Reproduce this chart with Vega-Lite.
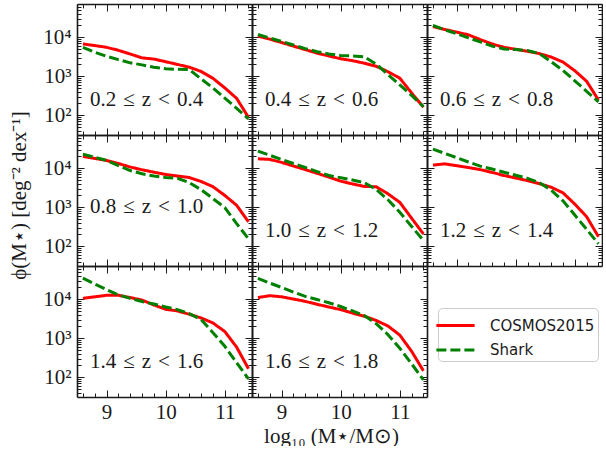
{
  "$schema": "https://vega.github.io/schema/vega-lite/v6.json",
  "background": "white",
  "padding": {"left": 8, "top": 3, "right": 0, "bottom": 0},
  "data": {"values": [
    {"z":"0.2","m":8.6,"COSMOS2015":6700,"Shark":5500},
    {"z":"0.2","m":8.8,"COSMOS2015":6100,"Shark":4100},
    {"z":"0.2","m":9.0,"COSMOS2015":5500,"Shark":3250},
    {"z":"0.2","m":9.2,"COSMOS2015":4600,"Shark":2650},
    {"z":"0.2","m":9.4,"COSMOS2015":3700,"Shark":2200},
    {"z":"0.2","m":9.6,"COSMOS2015":2950,"Shark":1950},
    {"z":"0.2","m":9.8,"COSMOS2015":2750,"Shark":1700},
    {"z":"0.2","m":10.0,"COSMOS2015":2350,"Shark":1550},
    {"z":"0.2","m":10.2,"COSMOS2015":2000,"Shark":1500},
    {"z":"0.2","m":10.4,"COSMOS2015":1700,"Shark":1480},
    {"z":"0.2","m":10.6,"COSMOS2015":1320,"Shark":850},
    {"z":"0.2","m":10.8,"COSMOS2015":880,"Shark":500},
    {"z":"0.2","m":11.0,"COSMOS2015":500,"Shark":275},
    {"z":"0.2","m":11.2,"COSMOS2015":270,"Shark":150},
    {"z":"0.2","m":11.4,"COSMOS2015":88,"Shark":80},

    {"z":"0.4","m":8.6,"COSMOS2015":10700,"Shark":11700},
    {"z":"0.4","m":8.8,"COSMOS2015":8900,"Shark":9500},
    {"z":"0.4","m":9.0,"COSMOS2015":7300,"Shark":7800},
    {"z":"0.4","m":9.2,"COSMOS2015":5900,"Shark":6300},
    {"z":"0.4","m":9.4,"COSMOS2015":4800,"Shark":5100},
    {"z":"0.4","m":9.6,"COSMOS2015":3900,"Shark":4250},
    {"z":"0.4","m":9.8,"COSMOS2015":3300,"Shark":3700},
    {"z":"0.4","m":10.0,"COSMOS2015":2800,"Shark":3400},
    {"z":"0.4","m":10.2,"COSMOS2015":2500,"Shark":3300},
    {"z":"0.4","m":10.4,"COSMOS2015":2150,"Shark":3150},
    {"z":"0.4","m":10.6,"COSMOS2015":1800,"Shark":2050},
    {"z":"0.4","m":10.8,"COSMOS2015":1300,"Shark":1100},
    {"z":"0.4","m":11.0,"COSMOS2015":890,"Shark":600},
    {"z":"0.4","m":11.2,"COSMOS2015":370,"Shark":320},
    {"z":"0.4","m":11.4,"COSMOS2015":160,"Shark":165},

    {"z":"0.6","m":8.6,"COSMOS2015":18600,"Shark":20000},
    {"z":"0.6","m":8.8,"COSMOS2015":15800,"Shark":15500},
    {"z":"0.6","m":9.0,"COSMOS2015":13500,"Shark":12300},
    {"z":"0.6","m":9.2,"COSMOS2015":11500,"Shark":9600},
    {"z":"0.6","m":9.4,"COSMOS2015":8700,"Shark":7600},
    {"z":"0.6","m":9.6,"COSMOS2015":6700,"Shark":5900},
    {"z":"0.6","m":9.8,"COSMOS2015":5500,"Shark":5000},
    {"z":"0.6","m":10.0,"COSMOS2015":4900,"Shark":4800},
    {"z":"0.6","m":10.2,"COSMOS2015":4350,"Shark":4550},
    {"z":"0.6","m":10.4,"COSMOS2015":3800,"Shark":3800},
    {"z":"0.6","m":10.6,"COSMOS2015":3100,"Shark":2350},
    {"z":"0.6","m":10.8,"COSMOS2015":2300,"Shark":1400},
    {"z":"0.6","m":11.0,"COSMOS2015":1380,"Shark":760},
    {"z":"0.6","m":11.2,"COSMOS2015":740,"Shark":410},
    {"z":"0.6","m":11.4,"COSMOS2015":245,"Shark":220},

    {"z":"0.8","m":8.6,"COSMOS2015":20000,"Shark":23000},
    {"z":"0.8","m":8.8,"COSMOS2015":17800,"Shark":19000},
    {"z":"0.8","m":9.0,"COSMOS2015":15800,"Shark":15800},
    {"z":"0.8","m":9.2,"COSMOS2015":13200,"Shark":11700},
    {"z":"0.8","m":9.4,"COSMOS2015":10700,"Shark":8700},
    {"z":"0.8","m":9.6,"COSMOS2015":9100,"Shark":7200},
    {"z":"0.8","m":9.8,"COSMOS2015":7900,"Shark":6300},
    {"z":"0.8","m":10.0,"COSMOS2015":6900,"Shark":5750},
    {"z":"0.8","m":10.2,"COSMOS2015":6300,"Shark":5500},
    {"z":"0.8","m":10.4,"COSMOS2015":5750,"Shark":4250},
    {"z":"0.8","m":10.6,"COSMOS2015":4550,"Shark":2800},
    {"z":"0.8","m":10.8,"COSMOS2015":3350,"Shark":1660},
    {"z":"0.8","m":11.0,"COSMOS2015":2000,"Shark":980},
    {"z":"0.8","m":11.2,"COSMOS2015":1120,"Shark":380},
    {"z":"0.8","m":11.4,"COSMOS2015":420,"Shark":155},

    {"z":"1.0","m":8.6,"COSMOS2015":17400,"Shark":27500},
    {"z":"1.0","m":8.8,"COSMOS2015":16800,"Shark":21500},
    {"z":"1.0","m":9.0,"COSMOS2015":14100,"Shark":16800},
    {"z":"1.0","m":9.2,"COSMOS2015":11400,"Shark":13200},
    {"z":"1.0","m":9.4,"COSMOS2015":9200,"Shark":10400},
    {"z":"1.0","m":9.6,"COSMOS2015":7400,"Shark":8200},
    {"z":"1.0","m":9.8,"COSMOS2015":5900,"Shark":6500},
    {"z":"1.0","m":10.0,"COSMOS2015":4650,"Shark":5700},
    {"z":"1.0","m":10.2,"COSMOS2015":3950,"Shark":5000},
    {"z":"1.0","m":10.4,"COSMOS2015":3400,"Shark":4250},
    {"z":"1.0","m":10.6,"COSMOS2015":3350,"Shark":2850},
    {"z":"1.0","m":10.8,"COSMOS2015":2200,"Shark":1550},
    {"z":"1.0","m":11.0,"COSMOS2015":1330,"Shark":740},
    {"z":"1.0","m":11.2,"COSMOS2015":520,"Shark":320},
    {"z":"1.0","m":11.4,"COSMOS2015":205,"Shark":140},

    {"z":"1.2","m":8.6,"COSMOS2015":12000,"Shark":30900},
    {"z":"1.2","m":8.8,"COSMOS2015":12900,"Shark":24000},
    {"z":"1.2","m":9.0,"COSMOS2015":11600,"Shark":18600},
    {"z":"1.2","m":9.2,"COSMOS2015":10400,"Shark":14400},
    {"z":"1.2","m":9.4,"COSMOS2015":9200,"Shark":11300},
    {"z":"1.2","m":9.6,"COSMOS2015":7800,"Shark":9500},
    {"z":"1.2","m":9.8,"COSMOS2015":6500,"Shark":7900},
    {"z":"1.2","m":10.0,"COSMOS2015":5600,"Shark":6600},
    {"z":"1.2","m":10.2,"COSMOS2015":4800,"Shark":5500},
    {"z":"1.2","m":10.4,"COSMOS2015":4000,"Shark":4250},
    {"z":"1.2","m":10.6,"COSMOS2015":3250,"Shark":2750},
    {"z":"1.2","m":10.8,"COSMOS2015":2330,"Shark":1450},
    {"z":"1.2","m":11.0,"COSMOS2015":1200,"Shark":630},
    {"z":"1.2","m":11.2,"COSMOS2015":570,"Shark":270},
    {"z":"1.2","m":11.4,"COSMOS2015":175,"Shark":115},

    {"z":"1.4","m":8.6,"COSMOS2015":10500,"Shark":34500},
    {"z":"1.4","m":8.8,"COSMOS2015":11500,"Shark":24500},
    {"z":"1.4","m":9.0,"COSMOS2015":12600,"Shark":17500},
    {"z":"1.4","m":9.2,"COSMOS2015":12600,"Shark":12900},
    {"z":"1.4","m":9.4,"COSMOS2015":11000,"Shark":10500},
    {"z":"1.4","m":9.6,"COSMOS2015":9500,"Shark":8700},
    {"z":"1.4","m":9.8,"COSMOS2015":7100,"Shark":7500},
    {"z":"1.4","m":10.0,"COSMOS2015":5500,"Shark":6300},
    {"z":"1.4","m":10.2,"COSMOS2015":5000,"Shark":5400},
    {"z":"1.4","m":10.4,"COSMOS2015":4100,"Shark":4250},
    {"z":"1.4","m":10.6,"COSMOS2015":3300,"Shark":3000},
    {"z":"1.4","m":10.8,"COSMOS2015":2450,"Shark":1380},
    {"z":"1.4","m":11.0,"COSMOS2015":1480,"Shark":620},
    {"z":"1.4","m":11.2,"COSMOS2015":590,"Shark":235},
    {"z":"1.4","m":11.4,"COSMOS2015":165,"Shark":90},

    {"z":"1.6","m":8.6,"COSMOS2015":11000,"Shark":34000},
    {"z":"1.6","m":8.8,"COSMOS2015":12300,"Shark":26000},
    {"z":"1.6","m":9.0,"COSMOS2015":11500,"Shark":20000},
    {"z":"1.6","m":9.2,"COSMOS2015":10100,"Shark":15200},
    {"z":"1.6","m":9.4,"COSMOS2015":8800,"Shark":11800},
    {"z":"1.6","m":9.6,"COSMOS2015":7400,"Shark":9800},
    {"z":"1.6","m":9.8,"COSMOS2015":6300,"Shark":8100},
    {"z":"1.6","m":10.0,"COSMOS2015":5400,"Shark":6500},
    {"z":"1.6","m":10.2,"COSMOS2015":4400,"Shark":5000},
    {"z":"1.6","m":10.4,"COSMOS2015":3650,"Shark":3800},
    {"z":"1.6","m":10.6,"COSMOS2015":2850,"Shark":2350},
    {"z":"1.6","m":10.8,"COSMOS2015":2050,"Shark":1230},
    {"z":"1.6","m":11.0,"COSMOS2015":1200,"Shark":550},
    {"z":"1.6","m":11.2,"COSMOS2015":460,"Shark":220},
    {"z":"1.6","m":11.4,"COSMOS2015":145,"Shark":85}
  ]},
  "columns": 3,
  "bounds": "flush",
  "spacing": 0,
  "concat": [
    {"width": 175, "height": 131, "title": {"text": "0.2\u2004≤\u2004z\u2004<\u20040.4"},
     "transform": [{"filter": "datum.z == '0.2'"}, {"fold": ["COSMOS2015", "Shark"], "as": ["s", "phi"]}],
     "layer": [
      {"mark": {"type": "line", "strokeWidth": 3, "clip": true}, "encoding": {
        "x": {"field": "m", "type": "quantitative", "scale": {"domain": [8.5, 11.46]}, "axis": {"orient": "bottom", "values": [9, 10, 11], "tickSize": -7, "labels": false, "title": null}},
        "y": {"field": "phi", "type": "quantitative", "scale": {"type": "log", "domain": [31, 71000]}, "axis": {"orient": "left", "values": [100, 1000, 10000], "tickSize": -7, "labels": true, "labelExpr": "datum.value == 100 ? '10²' : datum.value == 1000 ? '10³' : '10⁴'", "title": null}},
        "color": {"field": "s", "type": "nominal", "scale": {"domain": ["COSMOS2015", "Shark"], "range": ["#ff0000", "#008000"]}, "legend": {"title": null}},
        "strokeDash": {"field": "s", "type": "nominal", "scale": {"domain": ["COSMOS2015", "Shark"], "range": [[1, 0], [10, 4]]}, "legend": {"title": null}}}},
      {"mark": {"type": "point", "opacity": 0}, "encoding": {
        "x": {"field": "m", "type": "quantitative", "scale": {"domain": [8.5, 11.46]}, "axis": {"orient": "top", "values": [9, 10, 11], "tickSize": -7, "labels": false, "title": null}},
        "y": {"field": "phi", "type": "quantitative", "scale": {"type": "log", "domain": [31, 71000]}, "axis": {"orient": "right", "values": [100, 1000, 10000], "tickSize": -7, "labels": false, "title": null}}}},
      {"mark": {"type": "point", "opacity": 0}, "encoding": {
        "x": {"field": "m", "type": "quantitative", "scale": {"domain": [8.5, 11.46]}, "axis": {"orient": "bottom", "values": [8.6, 8.8, 9.2, 9.4, 9.6, 9.8, 10.2, 10.4, 10.6, 10.8, 11.2, 11.4], "tickSize": -4, "labels": false, "domain": false, "title": null}},
        "y": {"field": "phi", "type": "quantitative", "scale": {"type": "log", "domain": [31, 71000]}, "axis": {"orient": "left", "values": [40, 50, 60, 70, 80, 90, 200, 300, 400, 500, 600, 700, 800, 900, 2000, 3000, 4000, 5000, 6000, 7000, 8000, 9000, 20000, 30000, 40000, 50000, 60000, 70000], "tickSize": -4, "labels": false, "domain": false, "title": null}}}},
      {"mark": {"type": "point", "opacity": 0}, "encoding": {
        "x": {"field": "m", "type": "quantitative", "scale": {"domain": [8.5, 11.46]}, "axis": {"orient": "top", "values": [8.6, 8.8, 9.2, 9.4, 9.6, 9.8, 10.2, 10.4, 10.6, 10.8, 11.2, 11.4], "tickSize": -4, "labels": false, "domain": false, "title": null}},
        "y": {"field": "phi", "type": "quantitative", "scale": {"type": "log", "domain": [31, 71000]}, "axis": {"orient": "right", "values": [40, 50, 60, 70, 80, 90, 200, 300, 400, 500, 600, 700, 800, 900, 2000, 3000, 4000, 5000, 6000, 7000, 8000, 9000, 20000, 30000, 40000, 50000, 60000, 70000], "tickSize": -4, "labels": false, "domain": false, "title": null}}}}
     ],
     "resolve": {"axis": {"x": "independent", "y": "independent"}}},
    {"width": 175, "height": 131, "title": {"text": "0.4\u2004≤\u2004z\u2004<\u20040.6"},
     "transform": [{"filter": "datum.z == '0.4'"}, {"fold": ["COSMOS2015", "Shark"], "as": ["s", "phi"]}],
     "layer": [
      {"mark": {"type": "line", "strokeWidth": 3, "clip": true}, "encoding": {
        "x": {"field": "m", "type": "quantitative", "scale": {"domain": [8.5, 11.46]}, "axis": {"orient": "bottom", "values": [9, 10, 11], "tickSize": -7, "labels": false, "title": null}},
        "y": {"field": "phi", "type": "quantitative", "scale": {"type": "log", "domain": [31, 71000]}, "axis": {"orient": "left", "values": [100, 1000, 10000], "tickSize": -7, "labels": false, "title": null}},
        "color": {"field": "s", "type": "nominal", "scale": {"domain": ["COSMOS2015", "Shark"], "range": ["#ff0000", "#008000"]}, "legend": {"title": null}},
        "strokeDash": {"field": "s", "type": "nominal", "scale": {"domain": ["COSMOS2015", "Shark"], "range": [[1, 0], [10, 4]]}, "legend": {"title": null}}}},
      {"mark": {"type": "point", "opacity": 0}, "encoding": {
        "x": {"field": "m", "type": "quantitative", "scale": {"domain": [8.5, 11.46]}, "axis": {"orient": "top", "values": [9, 10, 11], "tickSize": -7, "labels": false, "title": null}},
        "y": {"field": "phi", "type": "quantitative", "scale": {"type": "log", "domain": [31, 71000]}, "axis": {"orient": "right", "values": [100, 1000, 10000], "tickSize": -7, "labels": false, "title": null}}}},
      {"mark": {"type": "point", "opacity": 0}, "encoding": {
        "x": {"field": "m", "type": "quantitative", "scale": {"domain": [8.5, 11.46]}, "axis": {"orient": "bottom", "values": [8.6, 8.8, 9.2, 9.4, 9.6, 9.8, 10.2, 10.4, 10.6, 10.8, 11.2, 11.4], "tickSize": -4, "labels": false, "domain": false, "title": null}},
        "y": {"field": "phi", "type": "quantitative", "scale": {"type": "log", "domain": [31, 71000]}, "axis": {"orient": "left", "values": [40, 50, 60, 70, 80, 90, 200, 300, 400, 500, 600, 700, 800, 900, 2000, 3000, 4000, 5000, 6000, 7000, 8000, 9000, 20000, 30000, 40000, 50000, 60000, 70000], "tickSize": -4, "labels": false, "domain": false, "title": null}}}},
      {"mark": {"type": "point", "opacity": 0}, "encoding": {
        "x": {"field": "m", "type": "quantitative", "scale": {"domain": [8.5, 11.46]}, "axis": {"orient": "top", "values": [8.6, 8.8, 9.2, 9.4, 9.6, 9.8, 10.2, 10.4, 10.6, 10.8, 11.2, 11.4], "tickSize": -4, "labels": false, "domain": false, "title": null}},
        "y": {"field": "phi", "type": "quantitative", "scale": {"type": "log", "domain": [31, 71000]}, "axis": {"orient": "right", "values": [40, 50, 60, 70, 80, 90, 200, 300, 400, 500, 600, 700, 800, 900, 2000, 3000, 4000, 5000, 6000, 7000, 8000, 9000, 20000, 30000, 40000, 50000, 60000, 70000], "tickSize": -4, "labels": false, "domain": false, "title": null}}}}
     ],
     "resolve": {"axis": {"x": "independent", "y": "independent"}}},
    {"width": 175, "height": 131, "title": {"text": "0.6\u2004≤\u2004z\u2004<\u20040.8"},
     "transform": [{"filter": "datum.z == '0.6'"}, {"fold": ["COSMOS2015", "Shark"], "as": ["s", "phi"]}],
     "layer": [
      {"mark": {"type": "line", "strokeWidth": 3, "clip": true}, "encoding": {
        "x": {"field": "m", "type": "quantitative", "scale": {"domain": [8.5, 11.46]}, "axis": {"orient": "bottom", "values": [9, 10, 11], "tickSize": -7, "labels": false, "title": null}},
        "y": {"field": "phi", "type": "quantitative", "scale": {"type": "log", "domain": [31, 71000]}, "axis": {"orient": "left", "values": [100, 1000, 10000], "tickSize": -7, "labels": false, "title": null}},
        "color": {"field": "s", "type": "nominal", "scale": {"domain": ["COSMOS2015", "Shark"], "range": ["#ff0000", "#008000"]}, "legend": {"title": null}},
        "strokeDash": {"field": "s", "type": "nominal", "scale": {"domain": ["COSMOS2015", "Shark"], "range": [[1, 0], [10, 4]]}, "legend": {"title": null}}}},
      {"mark": {"type": "point", "opacity": 0}, "encoding": {
        "x": {"field": "m", "type": "quantitative", "scale": {"domain": [8.5, 11.46]}, "axis": {"orient": "top", "values": [9, 10, 11], "tickSize": -7, "labels": false, "title": null}},
        "y": {"field": "phi", "type": "quantitative", "scale": {"type": "log", "domain": [31, 71000]}, "axis": {"orient": "right", "values": [100, 1000, 10000], "tickSize": -7, "labels": false, "title": null}}}},
      {"mark": {"type": "point", "opacity": 0}, "encoding": {
        "x": {"field": "m", "type": "quantitative", "scale": {"domain": [8.5, 11.46]}, "axis": {"orient": "bottom", "values": [8.6, 8.8, 9.2, 9.4, 9.6, 9.8, 10.2, 10.4, 10.6, 10.8, 11.2, 11.4], "tickSize": -4, "labels": false, "domain": false, "title": null}},
        "y": {"field": "phi", "type": "quantitative", "scale": {"type": "log", "domain": [31, 71000]}, "axis": {"orient": "left", "values": [40, 50, 60, 70, 80, 90, 200, 300, 400, 500, 600, 700, 800, 900, 2000, 3000, 4000, 5000, 6000, 7000, 8000, 9000, 20000, 30000, 40000, 50000, 60000, 70000], "tickSize": -4, "labels": false, "domain": false, "title": null}}}},
      {"mark": {"type": "point", "opacity": 0}, "encoding": {
        "x": {"field": "m", "type": "quantitative", "scale": {"domain": [8.5, 11.46]}, "axis": {"orient": "top", "values": [8.6, 8.8, 9.2, 9.4, 9.6, 9.8, 10.2, 10.4, 10.6, 10.8, 11.2, 11.4], "tickSize": -4, "labels": false, "domain": false, "title": null}},
        "y": {"field": "phi", "type": "quantitative", "scale": {"type": "log", "domain": [31, 71000]}, "axis": {"orient": "right", "values": [40, 50, 60, 70, 80, 90, 200, 300, 400, 500, 600, 700, 800, 900, 2000, 3000, 4000, 5000, 6000, 7000, 8000, 9000, 20000, 30000, 40000, 50000, 60000, 70000], "tickSize": -4, "labels": false, "domain": false, "title": null}}}}
     ],
     "resolve": {"axis": {"x": "independent", "y": "independent"}}},
    {"width": 175, "height": 131, "title": {"text": "0.8\u2004≤\u2004z\u2004<\u20041.0"},
     "transform": [{"filter": "datum.z == '0.8'"}, {"fold": ["COSMOS2015", "Shark"], "as": ["s", "phi"]}],
     "layer": [
      {"mark": {"type": "line", "strokeWidth": 3, "clip": true}, "encoding": {
        "x": {"field": "m", "type": "quantitative", "scale": {"domain": [8.5, 11.46]}, "axis": {"orient": "bottom", "values": [9, 10, 11], "tickSize": -7, "labels": false, "title": null}},
        "y": {"field": "phi", "type": "quantitative", "scale": {"type": "log", "domain": [31, 71000]}, "axis": {"orient": "left", "values": [100, 1000, 10000], "tickSize": -7, "labels": true, "labelExpr": "datum.value == 100 ? '10²' : datum.value == 1000 ? '10³' : '10⁴'", "title": "ϕ(M⋆) [deg⁻² dex⁻¹]", "titleY": 60}},
        "color": {"field": "s", "type": "nominal", "scale": {"domain": ["COSMOS2015", "Shark"], "range": ["#ff0000", "#008000"]}, "legend": {"title": null}},
        "strokeDash": {"field": "s", "type": "nominal", "scale": {"domain": ["COSMOS2015", "Shark"], "range": [[1, 0], [10, 4]]}, "legend": {"title": null}}}},
      {"mark": {"type": "point", "opacity": 0}, "encoding": {
        "x": {"field": "m", "type": "quantitative", "scale": {"domain": [8.5, 11.46]}, "axis": {"orient": "top", "values": [9, 10, 11], "tickSize": -7, "labels": false, "title": null}},
        "y": {"field": "phi", "type": "quantitative", "scale": {"type": "log", "domain": [31, 71000]}, "axis": {"orient": "right", "values": [100, 1000, 10000], "tickSize": -7, "labels": false, "title": null}}}},
      {"mark": {"type": "point", "opacity": 0}, "encoding": {
        "x": {"field": "m", "type": "quantitative", "scale": {"domain": [8.5, 11.46]}, "axis": {"orient": "bottom", "values": [8.6, 8.8, 9.2, 9.4, 9.6, 9.8, 10.2, 10.4, 10.6, 10.8, 11.2, 11.4], "tickSize": -4, "labels": false, "domain": false, "title": null}},
        "y": {"field": "phi", "type": "quantitative", "scale": {"type": "log", "domain": [31, 71000]}, "axis": {"orient": "left", "values": [40, 50, 60, 70, 80, 90, 200, 300, 400, 500, 600, 700, 800, 900, 2000, 3000, 4000, 5000, 6000, 7000, 8000, 9000, 20000, 30000, 40000, 50000, 60000, 70000], "tickSize": -4, "labels": false, "domain": false, "title": null}}}},
      {"mark": {"type": "point", "opacity": 0}, "encoding": {
        "x": {"field": "m", "type": "quantitative", "scale": {"domain": [8.5, 11.46]}, "axis": {"orient": "top", "values": [8.6, 8.8, 9.2, 9.4, 9.6, 9.8, 10.2, 10.4, 10.6, 10.8, 11.2, 11.4], "tickSize": -4, "labels": false, "domain": false, "title": null}},
        "y": {"field": "phi", "type": "quantitative", "scale": {"type": "log", "domain": [31, 71000]}, "axis": {"orient": "right", "values": [40, 50, 60, 70, 80, 90, 200, 300, 400, 500, 600, 700, 800, 900, 2000, 3000, 4000, 5000, 6000, 7000, 8000, 9000, 20000, 30000, 40000, 50000, 60000, 70000], "tickSize": -4, "labels": false, "domain": false, "title": null}}}}
     ],
     "resolve": {"axis": {"x": "independent", "y": "independent"}}},
    {"width": 175, "height": 131, "title": {"text": "1.0\u2004≤\u2004z\u2004<\u20041.2"},
     "transform": [{"filter": "datum.z == '1.0'"}, {"fold": ["COSMOS2015", "Shark"], "as": ["s", "phi"]}],
     "layer": [
      {"mark": {"type": "line", "strokeWidth": 3, "clip": true}, "encoding": {
        "x": {"field": "m", "type": "quantitative", "scale": {"domain": [8.5, 11.46]}, "axis": {"orient": "bottom", "values": [9, 10, 11], "tickSize": -7, "labels": false, "title": null}},
        "y": {"field": "phi", "type": "quantitative", "scale": {"type": "log", "domain": [31, 71000]}, "axis": {"orient": "left", "values": [100, 1000, 10000], "tickSize": -7, "labels": false, "title": null}},
        "color": {"field": "s", "type": "nominal", "scale": {"domain": ["COSMOS2015", "Shark"], "range": ["#ff0000", "#008000"]}, "legend": {"title": null}},
        "strokeDash": {"field": "s", "type": "nominal", "scale": {"domain": ["COSMOS2015", "Shark"], "range": [[1, 0], [10, 4]]}, "legend": {"title": null}}}},
      {"mark": {"type": "point", "opacity": 0}, "encoding": {
        "x": {"field": "m", "type": "quantitative", "scale": {"domain": [8.5, 11.46]}, "axis": {"orient": "top", "values": [9, 10, 11], "tickSize": -7, "labels": false, "title": null}},
        "y": {"field": "phi", "type": "quantitative", "scale": {"type": "log", "domain": [31, 71000]}, "axis": {"orient": "right", "values": [100, 1000, 10000], "tickSize": -7, "labels": false, "title": null}}}},
      {"mark": {"type": "point", "opacity": 0}, "encoding": {
        "x": {"field": "m", "type": "quantitative", "scale": {"domain": [8.5, 11.46]}, "axis": {"orient": "bottom", "values": [8.6, 8.8, 9.2, 9.4, 9.6, 9.8, 10.2, 10.4, 10.6, 10.8, 11.2, 11.4], "tickSize": -4, "labels": false, "domain": false, "title": null}},
        "y": {"field": "phi", "type": "quantitative", "scale": {"type": "log", "domain": [31, 71000]}, "axis": {"orient": "left", "values": [40, 50, 60, 70, 80, 90, 200, 300, 400, 500, 600, 700, 800, 900, 2000, 3000, 4000, 5000, 6000, 7000, 8000, 9000, 20000, 30000, 40000, 50000, 60000, 70000], "tickSize": -4, "labels": false, "domain": false, "title": null}}}},
      {"mark": {"type": "point", "opacity": 0}, "encoding": {
        "x": {"field": "m", "type": "quantitative", "scale": {"domain": [8.5, 11.46]}, "axis": {"orient": "top", "values": [8.6, 8.8, 9.2, 9.4, 9.6, 9.8, 10.2, 10.4, 10.6, 10.8, 11.2, 11.4], "tickSize": -4, "labels": false, "domain": false, "title": null}},
        "y": {"field": "phi", "type": "quantitative", "scale": {"type": "log", "domain": [31, 71000]}, "axis": {"orient": "right", "values": [40, 50, 60, 70, 80, 90, 200, 300, 400, 500, 600, 700, 800, 900, 2000, 3000, 4000, 5000, 6000, 7000, 8000, 9000, 20000, 30000, 40000, 50000, 60000, 70000], "tickSize": -4, "labels": false, "domain": false, "title": null}}}}
     ],
     "resolve": {"axis": {"x": "independent", "y": "independent"}}},
    {"width": 175, "height": 131, "title": {"text": "1.2\u2004≤\u2004z\u2004<\u20041.4"},
     "transform": [{"filter": "datum.z == '1.2'"}, {"fold": ["COSMOS2015", "Shark"], "as": ["s", "phi"]}],
     "layer": [
      {"mark": {"type": "line", "strokeWidth": 3, "clip": true}, "encoding": {
        "x": {"field": "m", "type": "quantitative", "scale": {"domain": [8.5, 11.46]}, "axis": {"orient": "bottom", "values": [9, 10, 11], "tickSize": -7, "labels": false, "title": null}},
        "y": {"field": "phi", "type": "quantitative", "scale": {"type": "log", "domain": [31, 71000]}, "axis": {"orient": "left", "values": [100, 1000, 10000], "tickSize": -7, "labels": false, "title": null}},
        "color": {"field": "s", "type": "nominal", "scale": {"domain": ["COSMOS2015", "Shark"], "range": ["#ff0000", "#008000"]}, "legend": {"title": null}},
        "strokeDash": {"field": "s", "type": "nominal", "scale": {"domain": ["COSMOS2015", "Shark"], "range": [[1, 0], [10, 4]]}, "legend": {"title": null}}}},
      {"mark": {"type": "point", "opacity": 0}, "encoding": {
        "x": {"field": "m", "type": "quantitative", "scale": {"domain": [8.5, 11.46]}, "axis": {"orient": "top", "values": [9, 10, 11], "tickSize": -7, "labels": false, "title": null}},
        "y": {"field": "phi", "type": "quantitative", "scale": {"type": "log", "domain": [31, 71000]}, "axis": {"orient": "right", "values": [100, 1000, 10000], "tickSize": -7, "labels": false, "title": null}}}},
      {"mark": {"type": "point", "opacity": 0}, "encoding": {
        "x": {"field": "m", "type": "quantitative", "scale": {"domain": [8.5, 11.46]}, "axis": {"orient": "bottom", "values": [8.6, 8.8, 9.2, 9.4, 9.6, 9.8, 10.2, 10.4, 10.6, 10.8, 11.2, 11.4], "tickSize": -4, "labels": false, "domain": false, "title": null}},
        "y": {"field": "phi", "type": "quantitative", "scale": {"type": "log", "domain": [31, 71000]}, "axis": {"orient": "left", "values": [40, 50, 60, 70, 80, 90, 200, 300, 400, 500, 600, 700, 800, 900, 2000, 3000, 4000, 5000, 6000, 7000, 8000, 9000, 20000, 30000, 40000, 50000, 60000, 70000], "tickSize": -4, "labels": false, "domain": false, "title": null}}}},
      {"mark": {"type": "point", "opacity": 0}, "encoding": {
        "x": {"field": "m", "type": "quantitative", "scale": {"domain": [8.5, 11.46]}, "axis": {"orient": "top", "values": [8.6, 8.8, 9.2, 9.4, 9.6, 9.8, 10.2, 10.4, 10.6, 10.8, 11.2, 11.4], "tickSize": -4, "labels": false, "domain": false, "title": null}},
        "y": {"field": "phi", "type": "quantitative", "scale": {"type": "log", "domain": [31, 71000]}, "axis": {"orient": "right", "values": [40, 50, 60, 70, 80, 90, 200, 300, 400, 500, 600, 700, 800, 900, 2000, 3000, 4000, 5000, 6000, 7000, 8000, 9000, 20000, 30000, 40000, 50000, 60000, 70000], "tickSize": -4, "labels": false, "domain": false, "title": null}}}}
     ],
     "resolve": {"axis": {"x": "independent", "y": "independent"}}},
    {"width": 175, "height": 131, "title": {"text": "1.4\u2004≤\u2004z\u2004<\u20041.6"},
     "transform": [{"filter": "datum.z == '1.4'"}, {"fold": ["COSMOS2015", "Shark"], "as": ["s", "phi"]}],
     "layer": [
      {"mark": {"type": "line", "strokeWidth": 3, "clip": true}, "encoding": {
        "x": {"field": "m", "type": "quantitative", "scale": {"domain": [8.5, 11.46]}, "axis": {"orient": "bottom", "values": [9, 10, 11], "tickSize": -7, "labels": true, "title": null}},
        "y": {"field": "phi", "type": "quantitative", "scale": {"type": "log", "domain": [31, 71000]}, "axis": {"orient": "left", "values": [100, 1000, 10000], "tickSize": -7, "labels": true, "labelExpr": "datum.value == 100 ? '10²' : datum.value == 1000 ? '10³' : '10⁴'", "title": null}},
        "color": {"field": "s", "type": "nominal", "scale": {"domain": ["COSMOS2015", "Shark"], "range": ["#ff0000", "#008000"]}, "legend": {"title": null}},
        "strokeDash": {"field": "s", "type": "nominal", "scale": {"domain": ["COSMOS2015", "Shark"], "range": [[1, 0], [10, 4]]}, "legend": {"title": null}}}},
      {"mark": {"type": "point", "opacity": 0}, "encoding": {
        "x": {"field": "m", "type": "quantitative", "scale": {"domain": [8.5, 11.46]}, "axis": {"orient": "top", "values": [9, 10, 11], "tickSize": -7, "labels": false, "title": null}},
        "y": {"field": "phi", "type": "quantitative", "scale": {"type": "log", "domain": [31, 71000]}, "axis": {"orient": "right", "values": [100, 1000, 10000], "tickSize": -7, "labels": false, "title": null}}}},
      {"mark": {"type": "point", "opacity": 0}, "encoding": {
        "x": {"field": "m", "type": "quantitative", "scale": {"domain": [8.5, 11.46]}, "axis": {"orient": "bottom", "values": [8.6, 8.8, 9.2, 9.4, 9.6, 9.8, 10.2, 10.4, 10.6, 10.8, 11.2, 11.4], "tickSize": -4, "labels": false, "domain": false, "title": null}},
        "y": {"field": "phi", "type": "quantitative", "scale": {"type": "log", "domain": [31, 71000]}, "axis": {"orient": "left", "values": [40, 50, 60, 70, 80, 90, 200, 300, 400, 500, 600, 700, 800, 900, 2000, 3000, 4000, 5000, 6000, 7000, 8000, 9000, 20000, 30000, 40000, 50000, 60000, 70000], "tickSize": -4, "labels": false, "domain": false, "title": null}}}},
      {"mark": {"type": "point", "opacity": 0}, "encoding": {
        "x": {"field": "m", "type": "quantitative", "scale": {"domain": [8.5, 11.46]}, "axis": {"orient": "top", "values": [8.6, 8.8, 9.2, 9.4, 9.6, 9.8, 10.2, 10.4, 10.6, 10.8, 11.2, 11.4], "tickSize": -4, "labels": false, "domain": false, "title": null}},
        "y": {"field": "phi", "type": "quantitative", "scale": {"type": "log", "domain": [31, 71000]}, "axis": {"orient": "right", "values": [40, 50, 60, 70, 80, 90, 200, 300, 400, 500, 600, 700, 800, 900, 2000, 3000, 4000, 5000, 6000, 7000, 8000, 9000, 20000, 30000, 40000, 50000, 60000, 70000], "tickSize": -4, "labels": false, "domain": false, "title": null}}}}
     ],
     "resolve": {"axis": {"x": "independent", "y": "independent"}}},
    {"width": 175, "height": 131, "title": {"text": "1.6\u2004≤\u2004z\u2004<\u20041.8"},
     "transform": [{"filter": "datum.z == '1.6'"}, {"fold": ["COSMOS2015", "Shark"], "as": ["s", "phi"]}],
     "layer": [
      {"mark": {"type": "line", "strokeWidth": 3, "clip": true}, "encoding": {
        "x": {"field": "m", "type": "quantitative", "scale": {"domain": [8.5, 11.46]}, "axis": {"orient": "bottom", "values": [9, 10, 11], "tickSize": -7, "labels": true, "title": "log₁₀ (M⋆/M⊙)", "titleX": 79}},
        "y": {"field": "phi", "type": "quantitative", "scale": {"type": "log", "domain": [31, 71000]}, "axis": {"orient": "left", "values": [100, 1000, 10000], "tickSize": -7, "labels": false, "title": null}},
        "color": {"field": "s", "type": "nominal", "scale": {"domain": ["COSMOS2015", "Shark"], "range": ["#ff0000", "#008000"]}, "legend": {"title": null}},
        "strokeDash": {"field": "s", "type": "nominal", "scale": {"domain": ["COSMOS2015", "Shark"], "range": [[1, 0], [10, 4]]}, "legend": {"title": null}}}},
      {"mark": {"type": "point", "opacity": 0}, "encoding": {
        "x": {"field": "m", "type": "quantitative", "scale": {"domain": [8.5, 11.46]}, "axis": {"orient": "top", "values": [9, 10, 11], "tickSize": -7, "labels": false, "title": null}},
        "y": {"field": "phi", "type": "quantitative", "scale": {"type": "log", "domain": [31, 71000]}, "axis": {"orient": "right", "values": [100, 1000, 10000], "tickSize": -7, "labels": false, "title": null}}}},
      {"mark": {"type": "point", "opacity": 0}, "encoding": {
        "x": {"field": "m", "type": "quantitative", "scale": {"domain": [8.5, 11.46]}, "axis": {"orient": "bottom", "values": [8.6, 8.8, 9.2, 9.4, 9.6, 9.8, 10.2, 10.4, 10.6, 10.8, 11.2, 11.4], "tickSize": -4, "labels": false, "domain": false, "title": null}},
        "y": {"field": "phi", "type": "quantitative", "scale": {"type": "log", "domain": [31, 71000]}, "axis": {"orient": "left", "values": [40, 50, 60, 70, 80, 90, 200, 300, 400, 500, 600, 700, 800, 900, 2000, 3000, 4000, 5000, 6000, 7000, 8000, 9000, 20000, 30000, 40000, 50000, 60000, 70000], "tickSize": -4, "labels": false, "domain": false, "title": null}}}},
      {"mark": {"type": "point", "opacity": 0}, "encoding": {
        "x": {"field": "m", "type": "quantitative", "scale": {"domain": [8.5, 11.46]}, "axis": {"orient": "top", "values": [8.6, 8.8, 9.2, 9.4, 9.6, 9.8, 10.2, 10.4, 10.6, 10.8, 11.2, 11.4], "tickSize": -4, "labels": false, "domain": false, "title": null}},
        "y": {"field": "phi", "type": "quantitative", "scale": {"type": "log", "domain": [31, 71000]}, "axis": {"orient": "right", "values": [40, 50, 60, 70, 80, 90, 200, 300, 400, 500, 600, 700, 800, 900, 2000, 3000, 4000, 5000, 6000, 7000, 8000, 9000, 20000, 30000, 40000, 50000, 60000, 70000], "tickSize": -4, "labels": false, "domain": false, "title": null}}}}
     ],
     "resolve": {"axis": {"x": "independent", "y": "independent"}}}
  ],
  "config": {
    "view": {"stroke": null},
    "concat": {"spacing": 0},
    "axis": {"grid": false, "domainColor": "#1a1a1a", "domainWidth": 1.6, "tickColor": "#1a1a1a", "tickWidth": 1, "labelFont": "Liberation Serif", "labelFontSize": 21, "labelColor": "#1a1a1a", "labelFlush": false, "labelOverlap": false, "titleFont": "Liberation Serif", "titleFontSize": 21, "titleFontWeight": "normal", "titleColor": "#1a1a1a"},
    "axisX": {"labelPadding": 11, "titlePadding": 3},
    "axisY": {"labelPadding": 13, "titlePadding": 13},
    "title": {"font": "Liberation Serif", "fontSize": 21, "fontWeight": "normal", "color": "#1a1a1a", "anchor": "start", "frame": "group", "orient": "top", "offset": -106, "baseline": "alphabetic", "dx": 13},
    "legend": {"orient": "none", "legendX": 361, "legendY": 304, "labelFont": "DejaVu Sans", "labelFontSize": 15, "labelColor": "#1a1a1a", "symbolType": "M-1.5,0H1.5", "symbolStrokeWidth": 3, "symbolSize": 650, "strokeColor": "#cccccc", "fillColor": "#ffffff", "cornerRadius": 4, "padding": 3, "rowPadding": 1.5, "labelOffset": 20}
  }
}
